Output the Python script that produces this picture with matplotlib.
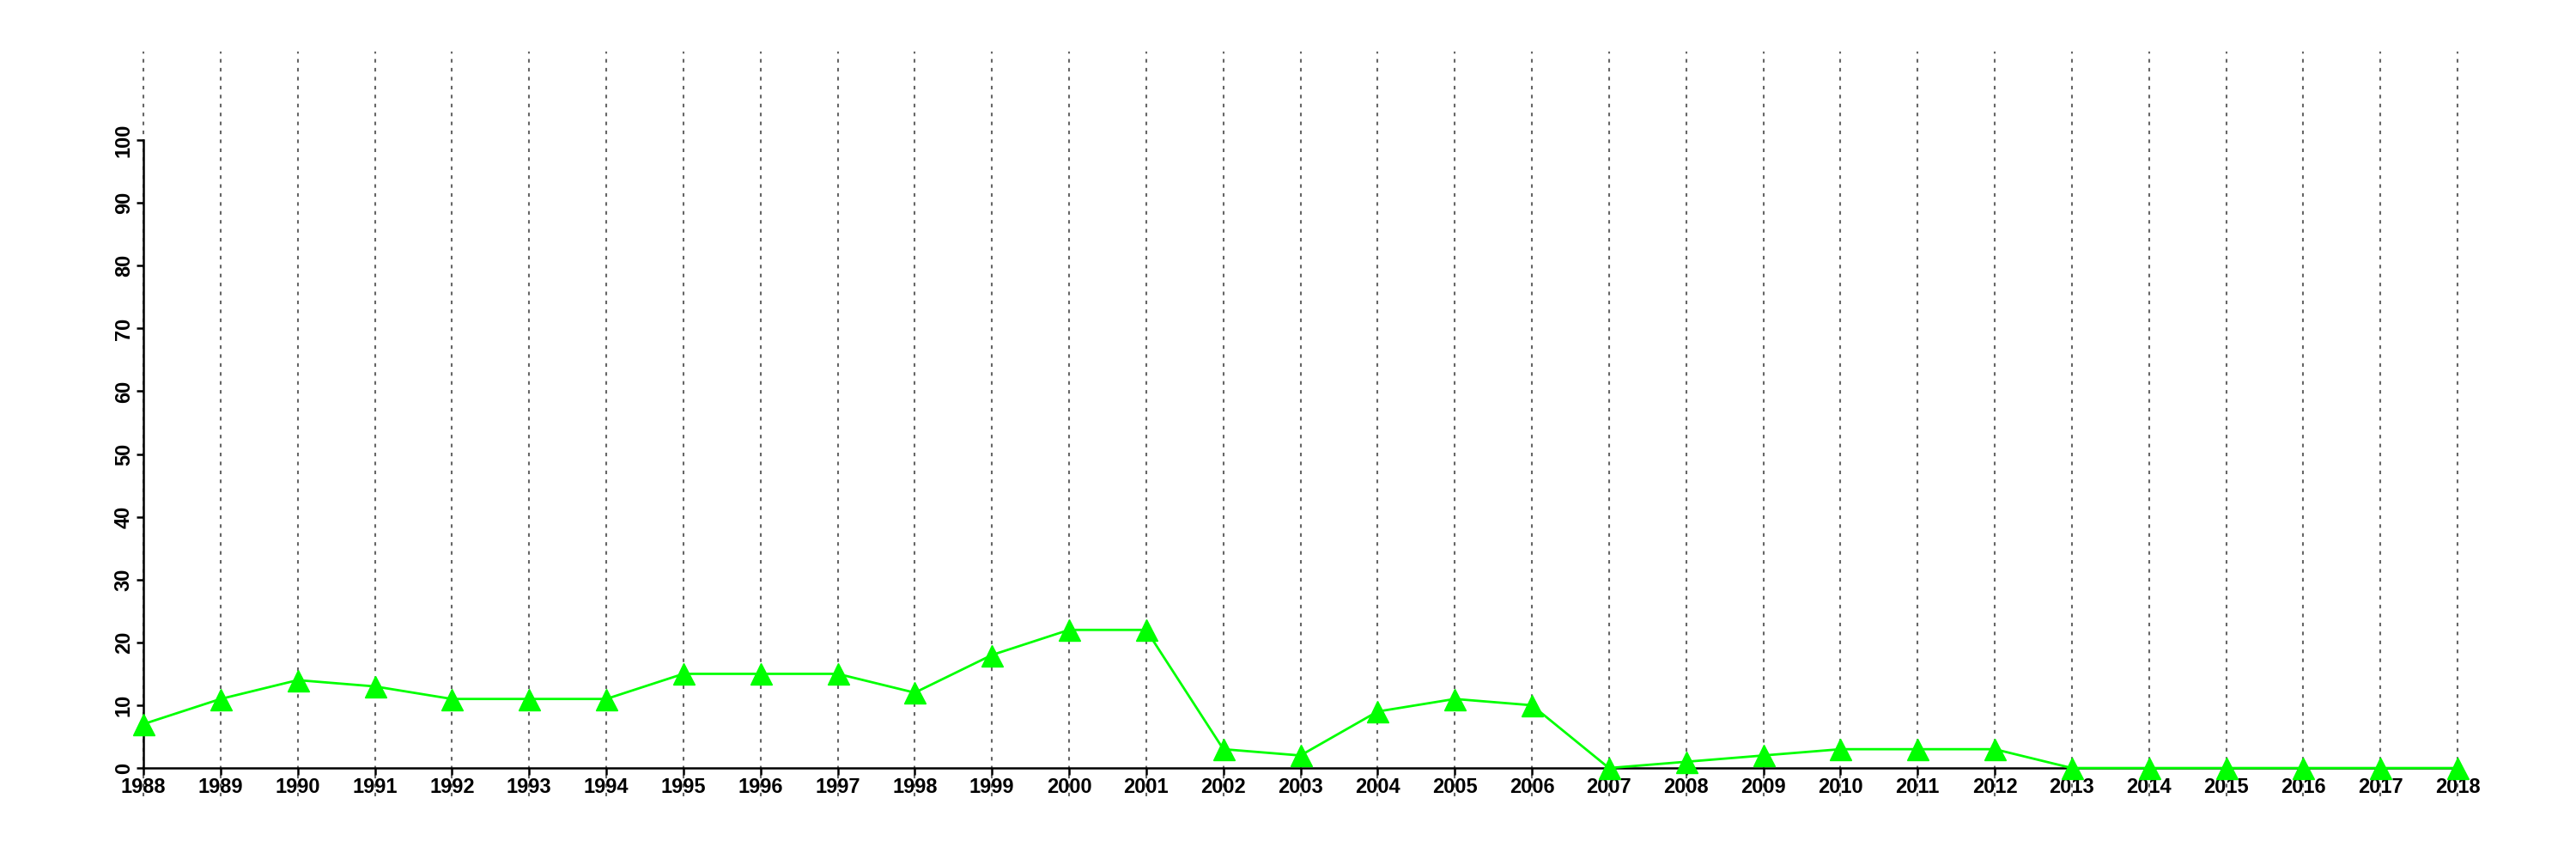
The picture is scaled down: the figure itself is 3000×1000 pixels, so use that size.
import matplotlib
matplotlib.use("Agg")
import matplotlib.pyplot as plt

# values
years = list(range(1988, 2019))
values = [7, 11, 14, 13, 11, 11, 11, 15, 15, 15, 12, 18, 22, 22, 3, 2, 9, 11, 10,
          0, 1, 2, 3, 3, 3, 0, 0, 0, 0, 0, 0]
y_ticks = list(range(0, 101, 10))

plt.rcParams["font.family"] = ["Liberation Sans", "DejaVu Sans"]

fig = plt.figure(figsize=(30, 10), dpi=100)
ax = fig.add_axes([167 / 3000, 1 - 927 / 1000, (2862 - 167) / 3000, (927 - 60) / 1000])

# spine setup first: set_position resets the ticks
for side in ["top", "right"]:
    ax.spines[side].set_visible(False)
ax.spines["bottom"].set_position(("data", 0))

ax.plot(years, values, color="#00ff00", linewidth=2, marker="^", markersize=18,
        clip_on=False, zorder=3)

ax.set_xlim(1988, 2018)
ax.set_ylim(-4.5, 114.1)
ax.spines["left"].set_bounds(0, 100)
ax.spines["bottom"].set_bounds(1988, 2018)
ax.spines["left"].set_linewidth(1.8)
ax.spines["bottom"].set_linewidth(1.8)

ax.set_xticks(years)
ax.set_xticklabels([str(y) for y in years], fontsize=17, fontweight="bold")
ax.set_yticks(y_ticks)
ax.set_yticklabels([str(t) for t in y_ticks], fontsize=17, fontweight="bold",
                   rotation=90, va="center")
ax.tick_params(axis="both", length=6, width=1.8, pad=2)

ax.grid(axis="x", color="#666666", linestyle=(0, (2, 3)), linewidth=1.5, zorder=0)
for gl in ax.get_xgridlines():
    gl.set_clip_on(False)
ax.set_axisbelow(True)

fig.savefig("out.png", dpi=100)
